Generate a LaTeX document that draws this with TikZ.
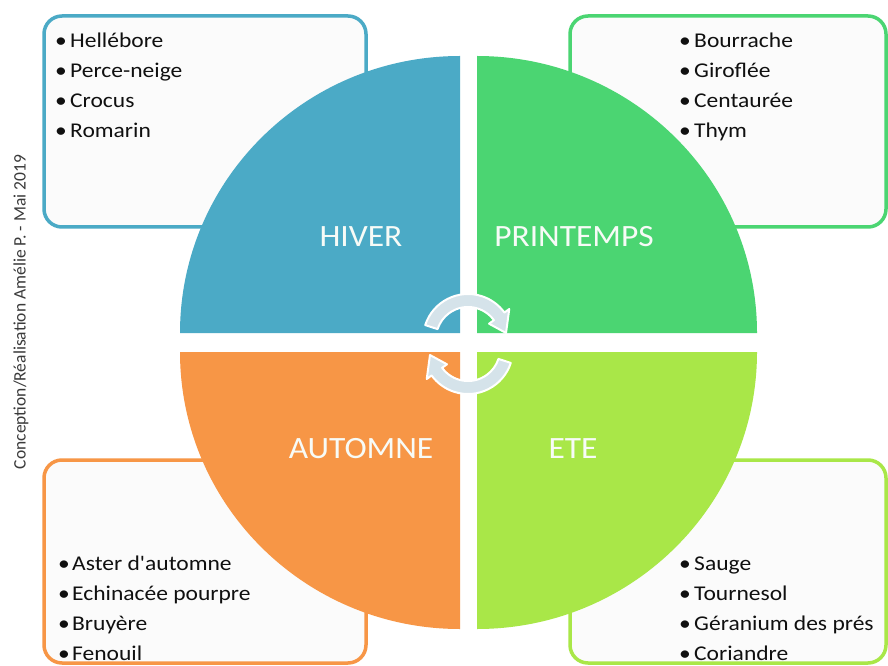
\documentclass[tikz,border=0pt]{standalone}
\usepackage{fontspec}
\setmainfont{Carlito}
\newfontfamily\itemfont[FakeStretch=1.12]{Carlito}
\newfontfamily\labfont[FakeStretch=1.08]{Carlito}
\definecolor{cblue}{HTML}{4BAAC6}
\definecolor{cgreen}{HTML}{4BD572}
\definecolor{corange}{HTML}{F79646}
\definecolor{clime}{HTML}{A9E748}
\definecolor{boxfill}{HTML}{FBFBFB}
\definecolor{arrowfill}{HTML}{D5E3EA}
\definecolor{labwhite}{HTML}{F7FBF7}
\definecolor{txt}{HTML}{101010}
\definecolor{credit}{HTML}{3A3A3A}
\begin{document}
\begin{tikzpicture}[x=1pt,y=1pt,
  box/.style={line width=3.5pt, rounded corners=18pt, fill=boxfill},
  lab/.style={text=labwhite, font=\labfont\fontsize{31}{31}\selectfont, inner sep=0pt},
  itm/.style={anchor=base west, text=txt, font=\itemfont\fontsize{21}{25}\selectfont, inner sep=0pt},
  bul/.style={anchor=base, text=txt, font=\itemfont\fontsize{21}{25}\selectfont, inner sep=0pt},
  cyc/.style={fill=arrowfill, draw=white, line width=2pt, line join=round}]
\useasboundingbox (0,0) rectangle (888,665);
\fill[white] (0,0) rectangle (888,665);

% boxes
\draw[box, draw=cblue]   (44,438) rectangle (366,649);
\draw[box, draw=cgreen]  (570,438) rectangle (886,649);
\draw[box, draw=corange] (44,2) rectangle (366,205);
\draw[box, draw=clime]   (570,2) rectangle (886,205);

% quadrants
\fill[cblue]   (460,332) -- (180,332) arc[start angle=180, end angle=90, x radius=280, y radius=277] -- cycle;
\fill[cgreen]  (477,332) -- (477,609) arc[start angle=90, end angle=0, x radius=280, y radius=277] -- cycle;
\fill[corange] (460,313) -- (180,313) arc[start angle=180, end angle=270, x radius=280, y radius=277] -- cycle;
\fill[clime]   (477,313) -- (757,313) arc[start angle=0, end angle=-90, x radius=280, y radius=277] -- cycle;

% cycle arrows
\begin{scope}[shift={(468,326)}]
  \filldraw[cyc] (162:45) arc[start angle=162, end angle=36, radius=45] -- (36:51) -- (9:38.5) -- (36:26) -- (36:32) arc[start angle=36, end angle=162, radius=32] -- cycle;
\end{scope}
\begin{scope}[shift={(468,316)}]
  \filldraw[cyc] (-18:45) arc[start angle=-18, end angle=-144, radius=45] -- (-144:51) -- (-171:38.5) -- (-144:26) -- (-144:32) arc[start angle=-144, end angle=-18, radius=32] -- cycle;
\end{scope}

% season labels
\node[lab] (hiver) at (361,428) {HIVER};
\node[lab] (printemps) at (574,428) {PRINTEMPS};
\node[lab] (automne) at (361,216) {AUTOMNE};
\node[lab] (ete) at (573,216) {ETE};

% winter list
\node[bul] (hb1) at (61,617) {\textbullet};
\node[itm] (h1) at (70,617) {Hellébore};
\node[bul] (hb2) at (61,587) {\textbullet};
\node[itm] (h2) at (70,587) {Perce-neige};
\node[bul] (hb3) at (61,557) {\textbullet};
\node[itm] (h3) at (70,557) {Crocus};
\node[bul] (hb4) at (61,527) {\textbullet};
\node[itm] (h4) at (70,527) {Romarin};

% spring list
\node[bul] (pb1) at (685,617) {\textbullet};
\node[itm] (p1) at (694,617) {Bourrache};
\node[bul] (pb2) at (685,587) {\textbullet};
\node[itm] (p2) at (694,587) {Giroflée};
\node[bul] (pb3) at (685,557) {\textbullet};
\node[itm] (p3) at (694,557) {Centaurée};
\node[bul] (pb4) at (685,527) {\textbullet};
\node[itm] (p4) at (694,527) {Thym};

% autumn list
\node[bul] (ab1) at (64,95) {\textbullet};
\node[itm] (a1) at (72,95) {Aster d'automne};
\node[bul] (ab2) at (64,65) {\textbullet};
\node[itm] (a2) at (72,65) {Echinacée pourpre};
\node[bul] (ab3) at (64,35) {\textbullet};
\node[itm] (a3) at (72,35) {Bruyère};
\node[bul] (ab4) at (64,5) {\textbullet};
\node[itm] (a4) at (72,5) {Fenouil};

% summer list
\node[bul] (eb1) at (685,95) {\textbullet};
\node[itm] (e1) at (694,95) {Sauge};
\node[bul] (eb2) at (685,65) {\textbullet};
\node[itm] (e2) at (694,65) {Tournesol};
\node[bul] (eb3) at (685,35) {\textbullet};
\node[itm] (e3) at (694,35) {Géranium des prés};
\node[bul] (eb4) at (685,5) {\textbullet};
\node[itm] (e4) at (694,5) {Coriandre};

% credit
\node[rotate=90, text=credit, font=\fontsize{17.5}{20}\selectfont, inner sep=0pt] (credit) at (21,353) {Conception/Réalisation Amélie P. - Mai 2019};
\end{tikzpicture}
\end{document}
